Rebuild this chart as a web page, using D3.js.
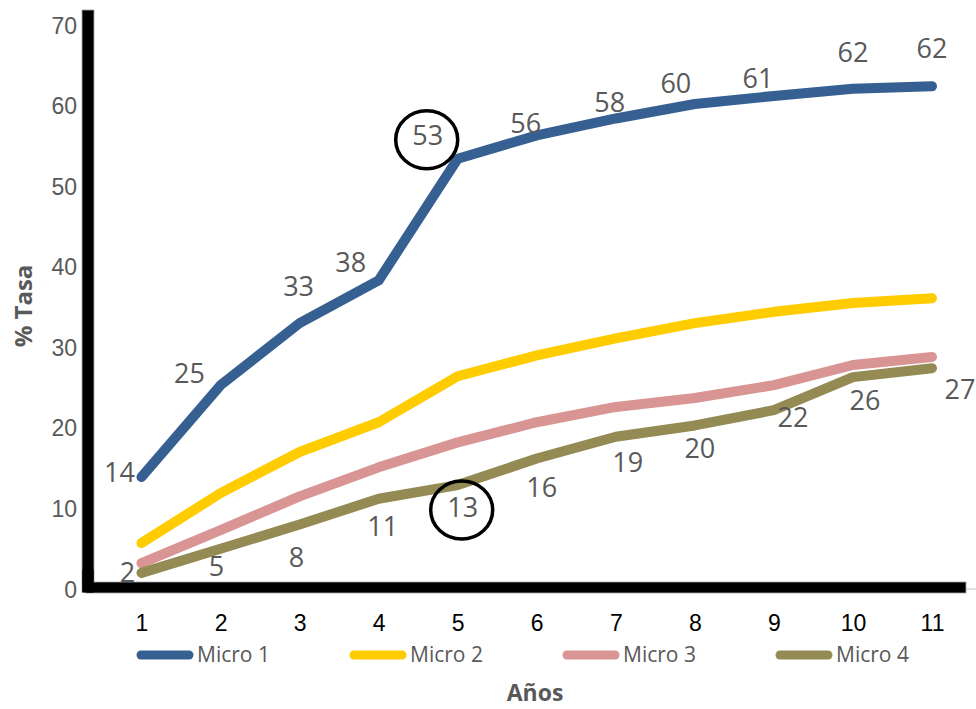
<!DOCTYPE html>
<html>
<head>
<meta charset="utf-8">
<script src="https://cdn.jsdelivr.net/npm/d3@7"></script>
<style>
  html, body { margin: 0; padding: 0; background: #fff; }
  svg { display: block; font-family: "Open Sans", "Liberation Sans", sans-serif; }
</style>
</head>
<body>
<svg id="chart" width="976" height="709"></svg>
<script>
// Años (categorías del eje X)
const years = [1, 2, 3, 4, 5, 6, 7, 8, 9, 10, 11];
// % Tasa por serie
const micro1 = [13.9, 25.3, 33.0, 38.3, 53.4, 56.3, 58.4, 60.2, 61.2, 62.1, 62.4];
const micro2 = [5.7, 11.9, 17.0, 20.7, 26.4, 29.0, 31.1, 33.0, 34.4, 35.5, 36.1];
const micro3 = [3.2, 7.3, 11.5, 15.1, 18.2, 20.7, 22.6, 23.7, 25.3, 27.8, 28.8];
const micro4 = [2.0, 5.0, 8.0, 11.2, 12.9, 16.2, 18.9, 20.3, 22.2, 26.3, 27.4];
const seriesNames = ["Micro 1", "Micro 2", "Micro 3", "Micro 4"];
const yTicks = [0, 10, 20, 30, 40, 50, 60, 70];
const xTitle = "Años";
const yTitle = "% Tasa";

// ---- layout and styling ----
const colors = ["#376092", "#FFCC00", "#D99594", "#948A54"];
const grey = "#595959";
const svg = d3.select("#chart");

const x = d3.scalePoint().domain(years).range([141.5, 932]);
const y = d3.scaleLinear().domain([0, 70]).range([589, 25]);

const series = [micro1, micro2, micro3, micro4].map((vals, i) => ({
  name: seriesNames[i],
  color: colors[i],
  points: years.map((yr, j) => ({ year: yr, value: vals[j] }))
}));

// label placement (pixel offsets from each point)
const labelOffsets1 = [[-22,-5],[-31,-12],[-1,-37],[-28,-18],[-30,-23],[-11,-12],[-6,-16],[-19,-21],[-16,-18],[0,-36],[0,-38]];
const labelOffsets4 = [[-14,0],[-4,18],[-3,33],[4,28],[5,22],[5,29],[12,26],[5,23],[19,7],[12,23],[28,21]];

// y axis labels
const yAxis = d3.axisLeft(y).tickValues(yTicks).tickSize(0).tickPadding(17);
const gy = svg.append("g").attr("transform", "translate(94,0)").call(yAxis);
gy.select(".domain").remove();
gy.selectAll("text")
  .attr("fill", grey)
  .style("font-size", "23px")
  .attr("dy", null)
  .attr("y", 8);

// x axis labels
const xAxis = d3.axisBottom(x).tickSize(0).tickPadding(0);
const gx = svg.append("g").attr("transform", `translate(0,${y(0)})`).call(xAxis);
gx.select(".domain").attr("stroke", "#bfbfbf").attr("d", "M94,0H976");
gx.selectAll("text")
  .attr("fill", "#000")
  .style("font-size", "23px")
  .attr("dy", null)
  .attr("y", 42);

// heavy black axis bars
svg.append("rect").attr("x", 82).attr("y", 10).attr("width", 12).attr("height", 582)
  .attr("fill", "#000").attr("stroke", "#a6a6a6").attr("stroke-width", 0.8);
svg.append("rect").attr("x", 86).attr("y", 582).attr("width", 880).attr("height", 11)
  .attr("fill", "#000").attr("stroke", "#a6a6a6").attr("stroke-width", 0.8);
svg.append("rect").attr("x", 82.4).attr("y", 570).attr("width", 11.2).attr("height", 22.6).attr("fill", "#000");

// series lines
const line = d3.line().x(d => x(d.year)).y(d => y(d.value));
svg.append("g").selectAll("path")
  .data(series)
  .join("path")
  .attr("d", d => line(d.points))
  .attr("fill", "none")
  .attr("stroke", d => d.color)
  .attr("stroke-width", 10)
  .attr("stroke-linecap", "round")
  .attr("stroke-linejoin", "round");

// data labels
const fmt = d3.format(".0f");
function drawLabels(s, offsets) {
  svg.append("g").selectAll("text")
    .data(s.points)
    .join("text")
    .attr("x", (d, i) => x(d.year) + offsets[i][0])
    .attr("y", (d, i) => y(d.value) + offsets[i][1] + 9.6)
    .attr("text-anchor", "middle")
    .attr("fill", grey)
    .style("font-size", "27px")
    .text(d => fmt(d.value));
}
drawLabels(series[0], labelOffsets1);
drawLabels(series[3], labelOffsets4);

// highlight rings around year 5 values
const rings = [
  { s: series[0], idx: 4, dx: -31, dy: -19 },
  { s: series[3], idx: 4, dx: 4, dy: 25 }
];
svg.append("g").selectAll("ellipse")
  .data(rings)
  .join("ellipse")
  .attr("cx", d => x(d.s.points[d.idx].year) + d.dx)
  .attr("cy", d => y(d.s.points[d.idx].value) + d.dy)
  .attr("rx", 31)
  .attr("ry", 29)
  .attr("fill", "none")
  .attr("stroke", "#000")
  .attr("stroke-width", 3.5);

// legend
const legendX = [137, 350, 563, 776];
const lg = svg.append("g").selectAll("g")
  .data(series)
  .join("g")
  .attr("transform", (d, i) => `translate(${legendX[i]},655)`);
lg.append("line")
  .attr("x1", 4).attr("x2", 52).attr("y1", 0).attr("y2", 0)
  .attr("stroke", d => d.color)
  .attr("stroke-width", 9)
  .attr("stroke-linecap", "round");
lg.append("text")
  .attr("x", 60).attr("y", 7)
  .attr("fill", grey)
  .style("font-size", "21px")
  .text(d => d.name);

// axis titles
svg.append("text")
  .attr("x", 535).attr("y", 701)
  .attr("text-anchor", "middle")
  .attr("fill", grey)
  .style("font-size", "23px")
  .style("font-weight", "bold")
  .text(xTitle);
svg.append("text")
  .attr("transform", "translate(32,306) rotate(-90)")
  .attr("text-anchor", "middle")
  .attr("fill", grey)
  .style("font-size", "24px")
  .style("font-weight", "bold")
  .text(yTitle);
</script>
</body>
</html>
